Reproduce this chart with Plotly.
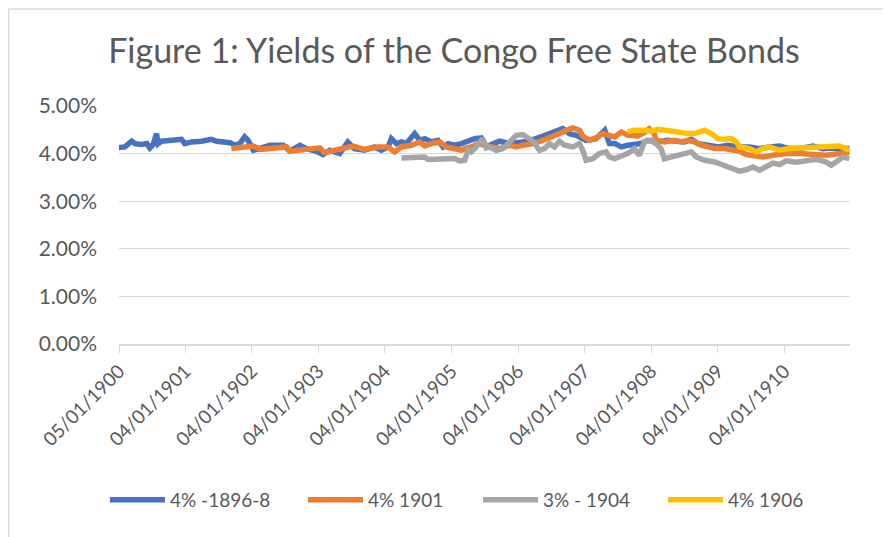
import datetime as dt
import plotly.graph_objects as go

# ---- data (time in decimal years, yields in %) ----
blue_t = [1900.00, 1900.10, 1900.20, 1900.25, 1900.35, 1900.43, 1900.475, 1900.525, 1900.575, 1900.60,
          1900.65, 1900.80, 1900.95, 1901.00, 1901.10, 1901.25, 1901.40, 1901.48, 1901.55, 1901.68,
          1901.75, 1901.825, 1901.90, 1901.95, 1902.03, 1902.13, 1902.28, 1902.48, 1902.58, 1902.73,
          1902.83, 1902.98, 1903.08, 1903.18, 1903.33, 1903.45, 1903.55, 1903.70, 1903.85, 1903.955,
          1904.055, 1904.105, 1904.18, 1904.255, 1904.33, 1904.455, 1904.53, 1904.605, 1904.705, 1904.805,
          1904.88, 1904.955, 1905.055, 1905.155, 1905.23, 1905.355, 1905.455, 1905.53, 1905.58, 1905.73,
          1905.88, 1906.08, 1906.28, 1906.43, 1906.58, 1906.68, 1906.78, 1906.88, 1907.03, 1907.18,
          1907.31, 1907.38, 1907.46, 1907.56, 1907.655, 1907.855, 1907.955, 1908.105, 1908.255, 1908.41,
          1908.51, 1908.61, 1908.71, 1908.86, 1909.01, 1909.16, 1909.26, 1909.335, 1909.485, 1909.635,
          1909.785, 1909.935, 1910.085, 1910.235, 1910.435, 1910.585, 1910.735, 1910.885, 1910.985]
blue_v = [4.126, 4.14, 4.26, 4.21, 4.19, 4.21, 4.12, 4.19, 4.42, 4.21,
          4.26, 4.28, 4.30, 4.21, 4.245, 4.26, 4.30, 4.26, 4.245, 4.23,
          4.175, 4.21, 4.35, 4.28, 4.07, 4.105, 4.175, 4.175, 4.05, 4.175,
          4.105, 4.05, 3.98, 4.07, 4.00, 4.245, 4.105, 4.07, 4.14, 4.07,
          4.14, 4.315, 4.21, 4.245, 4.21, 4.42, 4.28, 4.315, 4.245, 4.28,
          4.14, 4.21, 4.175, 4.21, 4.245, 4.315, 4.33, 4.14, 4.175, 4.26,
          4.21, 4.245, 4.315, 4.385, 4.455, 4.525, 4.42, 4.385, 4.28, 4.315,
          4.49, 4.21, 4.21, 4.14, 4.175, 4.21, 4.28, 4.245, 4.28, 4.26,
          4.245, 4.30, 4.21, 4.175, 4.14, 4.175, 4.14, 4.14, 4.14, 4.105,
          4.14, 4.16, 4.105, 4.105, 4.16, 4.105, 4.12, 4.105, 4.105]

orange_t = [1901.70, 1901.825, 1902.03, 1902.13, 1902.33, 1902.53, 1902.58, 1902.83, 1903.03, 1903.10,
            1903.28, 1903.43, 1903.53, 1903.70, 1903.90, 1904.055, 1904.155, 1904.255, 1904.405, 1904.53,
            1904.605, 1904.705, 1904.83, 1904.93, 1905.055, 1905.155, 1905.205, 1905.305, 1905.405, 1905.53,
            1905.58, 1905.73, 1905.88, 1905.98, 1906.08, 1906.23, 1906.38, 1906.53, 1906.63, 1906.73,
            1906.83, 1906.93, 1906.98, 1907.08, 1907.18, 1907.28, 1907.38, 1907.46, 1907.56, 1907.655,
            1907.805, 1907.905, 1907.98, 1908.055, 1908.08, 1908.205, 1908.355, 1908.46, 1908.555, 1908.66,
            1908.76, 1908.86, 1908.96, 1909.11, 1909.21, 1909.335, 1909.435, 1909.585, 1909.685, 1909.835,
            1910.035, 1910.235, 1910.435, 1910.635, 1910.835, 1910.985]
orange_v = [4.105, 4.126, 4.16, 4.09, 4.105, 4.14, 4.05, 4.105, 4.12, 4.02,
            4.09, 4.12, 4.16, 4.09, 4.14, 4.14, 4.035, 4.14, 4.175, 4.245,
            4.16, 4.21, 4.245, 4.14, 4.105, 4.07, 4.105, 4.14, 4.21, 4.175,
            4.14, 4.105, 4.175, 4.14, 4.175, 4.21, 4.28, 4.35, 4.42, 4.49,
            4.54, 4.49, 4.37, 4.28, 4.33, 4.42, 4.385, 4.35, 4.455, 4.385,
            4.37, 4.44, 4.525, 4.42, 4.28, 4.245, 4.28, 4.245, 4.28, 4.245,
            4.175, 4.14, 4.105, 4.105, 4.07, 4.05, 3.98, 3.965, 3.93, 3.965,
            4.00, 4.00, 3.98, 3.965, 4.00, 4.035]

gray_t = [1904.255, 1904.455, 1904.605, 1904.655, 1904.855, 1905.055, 1905.13, 1905.205, 1905.255, 1905.305,
          1905.355, 1905.43, 1905.48, 1905.53, 1905.58, 1905.68, 1905.78, 1905.88, 1905.98, 1906.08,
          1906.155, 1906.23, 1906.33, 1906.405, 1906.48, 1906.555, 1906.63, 1906.705, 1906.83, 1906.93,
          1906.98, 1907.03, 1907.13, 1907.23, 1907.33, 1907.38, 1907.46, 1907.56, 1907.655, 1907.755,
          1907.83, 1907.905, 1908.005, 1908.08, 1908.155, 1908.205, 1908.305, 1908.41, 1908.51, 1908.61,
          1908.685, 1908.81, 1908.96, 1909.11, 1909.21, 1909.335, 1909.435, 1909.535, 1909.635, 1909.735,
          1909.835, 1909.935, 1910.035, 1910.185, 1910.335, 1910.485, 1910.635, 1910.71, 1910.785, 1910.885,
          1910.985]
gray_v = [3.91, 3.91, 3.93, 3.875, 3.895, 3.895, 3.845, 3.86, 4.07, 4.035,
          4.105, 4.245, 4.315, 4.12, 4.14, 4.07, 4.105, 4.245, 4.385, 4.40,
          4.315, 4.26, 4.07, 4.105, 4.21, 4.14, 4.26, 4.175, 4.14, 4.21,
          4.07, 3.86, 3.895, 4.00, 4.035, 3.93, 3.895, 3.965, 4.00, 4.105,
          3.965, 4.245, 4.28, 4.21, 4.105, 3.895, 3.93, 3.965, 4.00, 4.035,
          3.93, 3.86, 3.825, 3.755, 3.70, 3.63, 3.66, 3.72, 3.65, 3.73,
          3.80, 3.77, 3.85, 3.82, 3.86, 3.88, 3.825, 3.755, 3.825, 3.93,
          3.895]

yellow_t = [1907.655, 1907.755, 1907.905, 1908.005, 1908.105, 1908.255, 1908.41, 1908.555, 1908.66, 1908.81,
            1908.91, 1909.01, 1909.11, 1909.21, 1909.285, 1909.335, 1909.485, 1909.585, 1909.685, 1909.785,
            1909.935, 1910.085, 1910.335, 1910.535, 1910.685, 1910.835, 1910.935, 1910.985]
yellow_v = [4.455, 4.49, 4.49, 4.47, 4.51, 4.47, 4.455, 4.42, 4.42, 4.49,
            4.42, 4.315, 4.30, 4.315, 4.245, 4.14, 4.105, 4.035, 4.105, 4.14,
            4.07, 4.105, 4.12, 4.14, 4.155, 4.16, 4.105, 4.07]

series_names = ["4% -1896-8", "4% 1901", "3% - 1904", "4% 1906"]
series_colors = ["#4472C4", "#ED7D31", "#A5A5A5", "#FFC000"]

tick_dates = ["1900-01-05", "1901-01-04", "1902-01-04", "1903-01-04", "1904-01-04", "1905-01-04",
              "1906-01-04", "1907-01-04", "1908-01-04", "1909-01-04", "1910-01-04"]
tick_labels = ["05/01/1900", "04/01/1901", "04/01/1902", "04/01/1903", "04/01/1904", "04/01/1905",
               "04/01/1906", "04/01/1907", "04/01/1908", "04/01/1909", "04/01/1910"]
y_ticks = [0, 1, 2, 3, 4, 5]


def to_date(t):
    y = int(t)
    start = dt.datetime(y, 1, 1)
    end = dt.datetime(y + 1, 1, 1)
    return start + (end - start) * (t - y)


FONT = "Lato, 'Open Sans', sans-serif"
TXT = "#595959"

legend_ids = ["legend", "legend2", "legend3", "legend4"]
legend_x = [-0.0192, 0.2517, 0.4911, 0.7442]

fig = go.Figure()
for (tt, vv), name, col, lid in zip([(blue_t, blue_v), (orange_t, orange_v), (gray_t, gray_v), (yellow_t, yellow_v)],
                                    series_names, series_colors, legend_ids):
    fig.add_trace(go.Scatter(x=[to_date(t) for t in tt], y=vv, mode="lines", name=name, legend=lid,
                             line=dict(color=col, width=5.5, shape="linear")))

legend_common = dict(orientation="h", y=-0.655, yanchor="middle", xanchor="left",
                     font=dict(family=FONT, size=19, color=TXT), itemwidth=55,
                     bgcolor="rgba(0,0,0,0)", borderwidth=0)

fig.update_layout(
    width=883, height=529,
    paper_bgcolor="white", plot_bgcolor="white",
    margin=dict(l=111, r=41, t=98, b=193, autoexpand=False),
    title=dict(text="Figure 1: Yields of the Congo Free State Bonds", x=0.505, xanchor="center",
               y=0.918, yanchor="middle", font=dict(family=FONT, size=34, color=TXT)),
    showlegend=True,
    legend=dict(x=legend_x[0], **legend_common),
    legend2=dict(x=legend_x[1], **legend_common),
    legend3=dict(x=legend_x[2], **legend_common),
    legend4=dict(x=legend_x[3], **legend_common),
    xaxis=dict(type="date", range=[dt.datetime(1900, 1, 5), dt.datetime(1910, 12, 30)],
               tickvals=tick_dates, ticktext=tick_labels, tickangle=-45,
               showgrid=False, showline=True, linecolor="#D9D9D9", linewidth=1.5,
               ticks="outside", ticklen=7, tickcolor="#D9D9D9",
               tickfont=dict(family=FONT, size=19, color=TXT), zeroline=False),
    yaxis=dict(range=[0, 5], tickvals=y_ticks, ticktext=[f"{v:.2f}%" for v in y_ticks],
               showgrid=True, gridcolor="#D9D9D9", gridwidth=1.3, zeroline=False, showline=False,
               ticks="", ticklabelstandoff=21, tickfont=dict(family=FONT, size=21, color=TXT)),
    shapes=[
        dict(type="line", xref="paper", yref="paper", x0=-0.151, x1=1.2, y0=1.408, y1=1.408,
             line=dict(color="#D9D9D9", width=1.5)),
        dict(type="line", xref="paper", yref="paper", x0=-0.151, x1=-0.151, y0=-1.0, y1=1.408,
             line=dict(color="#D9D9D9", width=1.5)),
    ],
)

fig.write_html("out.html")
